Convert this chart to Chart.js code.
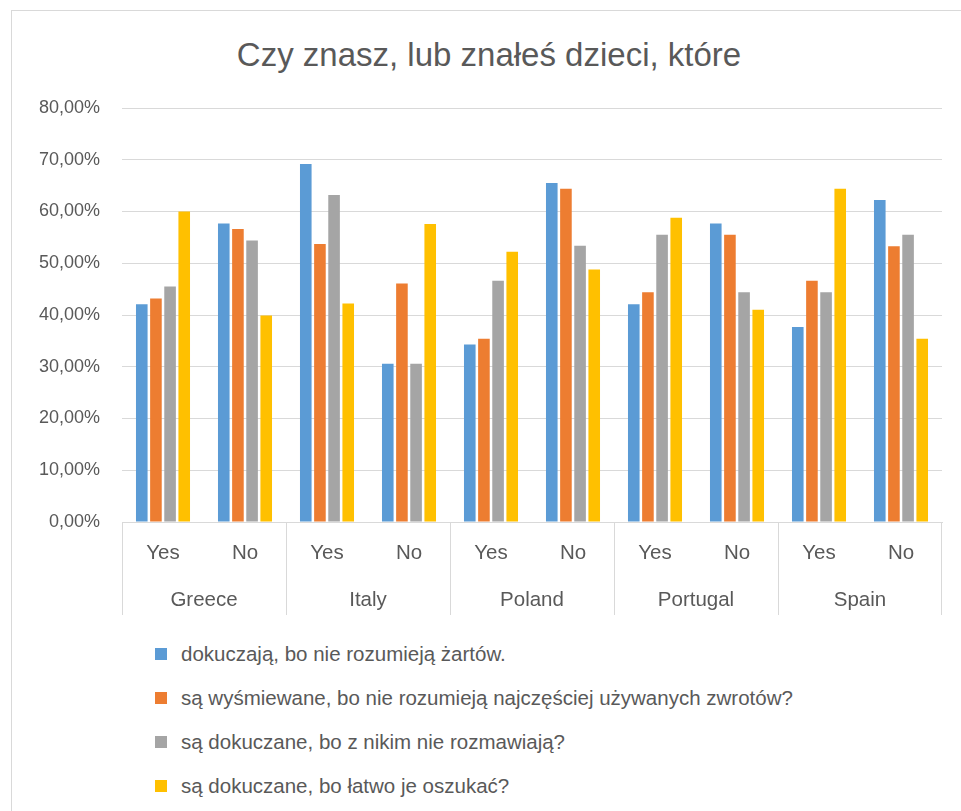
<!DOCTYPE html>
<html>
<head>
<meta charset="utf-8">
<script src="https://cdn.jsdelivr.net/npm/chart.js@4.4.0/dist/chart.umd.min.js"></script>
<style>
  html, body { margin: 0; padding: 0; background: #fff; overflow: hidden; }
  body { width: 961px; height: 811px; position: relative; font-family: "Liberation Sans", Arial, sans-serif; color: #595959; }
  #frame { position: absolute; left: 11px; top: 10px; width: 1000px; height: 1000px; border: 1px solid #d9d9d9; }
  #title { position: absolute; left: 0; top: 33px; width: 978px; text-align: center; font-size: 33px; line-height: 44px; }
  #wrap { position: absolute; left: 0; top: 0; width: 961px; height: 630px; }
  #legend { position: absolute; left: 155px; top: 632px; font-size: 20.5px; }
  .item { height: 44px; display: flex; align-items: center; }
  .box { width: 12px; height: 12px; margin-right: 14px; }
</style>
</head>
<body>
<div id="frame"></div>
<div id="title">Czy znasz, lub znałeś dzieci, które</div>
<div id="wrap"><canvas id="chart"></canvas></div>
<div id="legend"></div>
<script>
// categories
const countries = ['Greece', 'Italy', 'Poland', 'Portugal', 'Spain'];
const answers = ['Yes', 'No'];

// series values (%), order: Greece Yes, Greece No, Italy Yes, ...
const teasedJokes   = [42.1, 57.7, 69.2, 30.6, 34.3, 65.5, 42.1, 57.7, 37.7, 62.2];
const mockedPhrases = [43.2, 56.6, 53.7, 46.1, 35.4, 64.4, 44.4, 55.5, 46.6, 53.3];
const teasedAlone   = [45.5, 54.4, 63.2, 30.6, 46.6, 53.4, 55.5, 44.4, 44.4, 55.5];
const teasedFooled  = [60.0, 39.9, 42.2, 57.6, 52.2, 48.8, 58.8, 41.0, 64.4, 35.4];

const seriesNames = [
  'dokuczają, bo nie rozumieją żartów.',
  'są wyśmiewane, bo nie rozumieją najczęściej używanych zwrotów?',
  'są dokuczane, bo z nikim nie rozmawiają?',
  'są dokuczane, bo łatwo je oszukać?'
];
const seriesColors = ['#5B9BD5', '#ED7D31', '#A5A5A5', '#FFC000'];

// y ticks 0..80 step 10
const yMax = 80;
const yStep = 10;

const labels = [];
countries.forEach(() => answers.forEach(a => labels.push(a)));

const seriesData = [teasedJokes, mockedPhrases, teasedAlone, teasedFooled];

const textColor = '#595959';
const gridColor = '#d9d9d9';
const fontFamily = '"Liberation Sans", Arial, sans-serif';

// draws country row and separators below Yes/No labels
const countryAxis = {
  id: 'countryAxis',
  afterDraw(chart) {
    const ctx = chart.ctx;
    const x = chart.scales.x;
    const area = chart.chartArea;
    const half = (x.getPixelForValue(1) - x.getPixelForValue(0)) / 2;
    ctx.save();
    ctx.strokeStyle = gridColor;
    ctx.lineWidth = 1;
    ctx.fillStyle = textColor;
    ctx.font = '20.5px ' + fontFamily;
    ctx.textAlign = 'center';
    ctx.textBaseline = 'middle';
    countries.forEach((c, i) => {
      const first = i * answers.length;
      const last = first + answers.length - 1;
      const left = x.getPixelForValue(first) - half;
      const right = x.getPixelForValue(last) + half;
      ctx.beginPath();
      ctx.moveTo(Math.round(left) + 0.5, area.bottom);
      ctx.lineTo(Math.round(left) + 0.5, area.bottom + 93);
      if (i === countries.length - 1) {
        ctx.moveTo(Math.round(right) - 0.5, area.bottom);
        ctx.lineTo(Math.round(right) - 0.5, area.bottom + 93);
      }
      ctx.stroke();
      ctx.fillText(c, (left + right) / 2, area.bottom + 78);
    });
    ctx.restore();
  }
};

const chart = new Chart(document.getElementById('chart'), {
  type: 'bar',
  data: {
    labels: labels,
    datasets: seriesData.map((d, i) => ({
      label: seriesNames[i],
      data: d,
      backgroundColor: seriesColors[i],
      borderWidth: 0,
      categoryPercentage: 0.69,
      barPercentage: 0.82
    }))
  },
  options: {
    responsive: true,
    maintainAspectRatio: false,
    animation: false,
    layout: { padding: { left: 0, right: 19, top: 108, bottom: 0 } },
    plugins: {
      legend: { display: false },
      title: { display: false },
      tooltip: { enabled: false }
    },
    scales: {
      x: {
        grid: { display: false, drawTicks: false },
        border: { display: true, color: gridColor, width: 1 },
        ticks: { color: textColor, font: { size: 20.5, family: fontFamily }, padding: 19, maxRotation: 0, autoSkip: false },
        afterFit(s) { s.height = 108; }
      },
      y: {
        min: 0,
        max: yMax,
        grid: { color: gridColor, lineWidth: 1, drawTicks: false },
        border: { display: false },
        ticks: {
          stepSize: yStep,
          color: textColor,
          font: { size: 18, family: fontFamily },
          padding: 22,
          callback: v => v.toFixed(2).replace('.', ',') + '%'
        },
        afterFit(s) { s.width = 122; }
      }
    }
  },
  plugins: [countryAxis]
});

// vertical legend built from the datasets
const legend = document.getElementById('legend');
chart.data.datasets.forEach(ds => {
  const row = document.createElement('div');
  row.className = 'item';
  row.innerHTML = `<span class="box" style="background:${ds.backgroundColor}"></span><span>${ds.label}</span>`;
  legend.appendChild(row);
});
</script>
</body>
</html>
